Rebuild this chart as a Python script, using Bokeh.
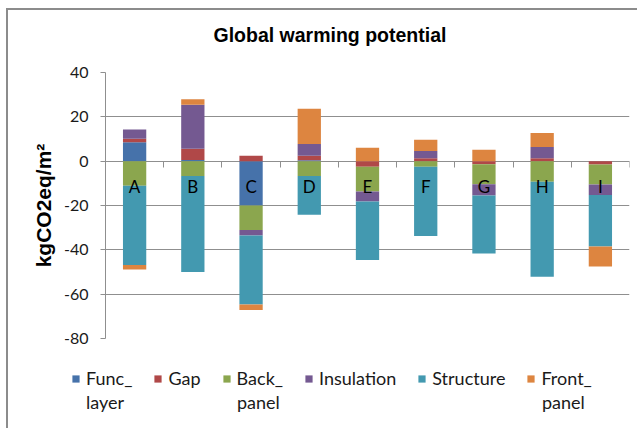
from bokeh.plotting import figure
from bokeh.layouts import column
from bokeh.core.properties import value
from bokeh.models import (LinearAxis, FixedTicker, Range1d, ColumnDataSource,
                          Legend, LegendItem, LabelSet, Title)
from bokeh.embed import file_html
from bokeh.resources import INLINE

# ---- data ----
categories = ["A", "B", "C", "D", "E", "F", "G", "H", "I"]
series_line1 = ["Func_", "Gap", "Back_", "Insulation", "Structure", "Front_"]
series_line2 = ["layer", "", "panel", "", "", "panel"]
func_layer = [8.5, 0.5, -20.0, 0.4, 0.0, 0.0, 0.0, 0.0, 0.0]
gap = [1.6, 5.1, 2.5, 2.1, -2.5, 1.3, -1.4, 1.3, -1.5]
back_panel = [-11.1, -6.7, -11.1, -6.7, -11.2, -2.5, -9.0, -9.3, -9.0]
insulation = [4.2, 19.9, -2.4, 5.2, -4.5, 3.3, -5.1, 5.1, -4.8]
structure = [-35.7, -43.3, -31.2, -17.5, -26.4, -31.3, -26.2, -42.8, -23.2]
front_panel = [-2.1, 2.4, -2.4, 16.0, 6.0, 5.1, 5.2, 6.3, -9.0]
y_ticks = [-80, -60, -40, -20, 0, 20, 40]

colors = ["#4672AA", "#B04848", "#8BA64E", "#745991", "#4399B0", "#DD8540"]
grid_color = "#8f8f8f"
label_font = "Lato"

series = [func_layer, gap, back_panel, insulation, structure, front_panel]
n = len(categories)
xs = [i + 0.5 for i in range(n)]

p = figure(width=629, height=356,
           x_range=Range1d(0, n), y_range=Range1d(y_ticks[0], y_ticks[-1]),
           x_axis_type=None, output_backend="svg", toolbar_location=None,
           min_border_left=97, min_border_right=8, min_border_top=62,
           min_border_bottom=28)
p.frame_align = False
p.outline_line_color = None
p.background_fill_color = "white"
p.border_fill_color = "white"

# small spacer next to the frame, then the title further out
p.add_layout(Title(text=" ", standoff=0, text_font_size="13px"), "above")
p.title.text = "Global warming potential"
p.title.align = "left"
p.title.offset = 108
p.title.standoff = 20
p.title.text_font = "Liberation Sans"
p.title.text_font_size = "19.5px"
p.title.text_font_style = "bold"
p.title.text_color = "#000000"

# y axis
ya = p.yaxis[0]
ya.ticker = FixedTicker(ticks=y_ticks)
ya.major_label_overrides = {t: str(t) for t in y_ticks}
ya.major_tick_out = 5
ya.major_tick_in = 0
ya.minor_tick_out = 0
ya.minor_tick_in = 0
ya.axis_line_color = grid_color
ya.major_tick_line_color = grid_color
ya.major_label_standoff = 12
ya.major_label_text_font = label_font
ya.major_label_text_font_size = "16px"
ya.major_label_text_color = "#1a1a1a"
ya.axis_label = "kgCO2eq/m²"
ya.axis_label_text_font = "Liberation Sans"
ya.axis_label_text_font_style = "bold"
ya.axis_label_text_font_size = "21px"
ya.axis_label_text_color = "#000000"
ya.axis_label_standoff = 6

p.ygrid.ticker = FixedTicker(ticks=y_ticks)
p.ygrid.grid_line_color = grid_color
p.ygrid.grid_line_width = 1

# category axis crossing at zero: boundary ticks only
ax_ticks = LinearAxis(ticker=FixedTicker(ticks=list(range(n + 1))), fixed_location=0,
                      major_label_overrides={i: "" for i in range(n + 1)},
                      major_label_standoff=0, major_label_text_font_size="1px",
                      major_tick_out=6, major_tick_in=0,
                      minor_tick_out=0, minor_tick_in=0,
                      axis_line_color=grid_color, major_tick_line_color=grid_color)
ax_ticks.level = "underlay"
p.add_layout(ax_ticks, "below")

# stacked bars (positives up, negatives down, like the original)
pos = [0.0] * n
neg = [0.0] * n
for vals, col in zip(series, colors):
    bottoms, tops = [], []
    for i, v in enumerate(vals):
        if v >= 0:
            bottoms.append(pos[i]); tops.append(pos[i] + v); pos[i] += v
        else:
            bottoms.append(neg[i]); tops.append(neg[i] + v); neg[i] += v
    src = ColumnDataSource(dict(x=xs, bottom=bottoms, top=tops))
    p.vbar(x="x", bottom="bottom", top="top", width=0.4, source=src,
           fill_color=col, line_color=None)

# category labels next to the zero axis
lab_src = ColumnDataSource(dict(x=xs, y=[0] * n, text=categories))
labels = LabelSet(x="x", y="y", text="text", source=lab_src, y_offset=-25,
                  text_align="center", text_baseline="middle",
                  text_font=value(label_font), text_font_size="17px",
                  text_color="#000000")
p.add_layout(labels)

# legend strip below the chart
lg = figure(width=629, height=62, x_range=Range1d(0, 1), y_range=Range1d(0, 1),
            x_axis_type=None, y_axis_type=None, output_backend="svg",
            toolbar_location=None, min_border=0)
lg.frame_align = False
lg.outline_line_color = None
lg.xgrid.visible = False
lg.ygrid.visible = False

legend_style = dict(orientation="horizontal", padding=0, margin=0,
                    border_line_color=None, background_fill_alpha=0,
                    label_text_font=label_font, label_text_font_size="18px",
                    label_text_line_height=1.3, label_text_color="#1a1a1a")

swatches = []
items = []
for name, col in zip(series_line1, colors):
    # zero-size swatch renderer that only feeds the legend
    r = lg.vbar(x=[0], bottom=[0], top=[0], width=0, fill_color=col, line_color=None)
    swatches.append(r)
    items.append(LegendItem(label=name, renderers=[r]))
legend = Legend(items=items, location=(63, 39), glyph_width=9, glyph_height=9,
                label_standoff=6, spacing=21, **legend_style)
lg.add_layout(legend, "center")

# second lines of the wrapped legend labels
second_x = {0: 78, 2: 229, 5: 534}
for i, txt in enumerate(series_line2):
    if txt:
        lg.add_layout(Legend(items=[LegendItem(label=txt, renderers=[swatches[i]])],
                             location=(second_x[i], 15), glyph_width=0, glyph_height=9,
                             label_standoff=0, spacing=0, **legend_style), "center")

layout = column(p, lg, spacing=0)
layout.styles = {"margin-left": "6px", "margin-top": "8px",
                 "border-left": "2px solid #8c8c8c", "border-top": "2px solid #8c8c8c"}

open("out.html", "w").write(file_html(layout, INLINE))
